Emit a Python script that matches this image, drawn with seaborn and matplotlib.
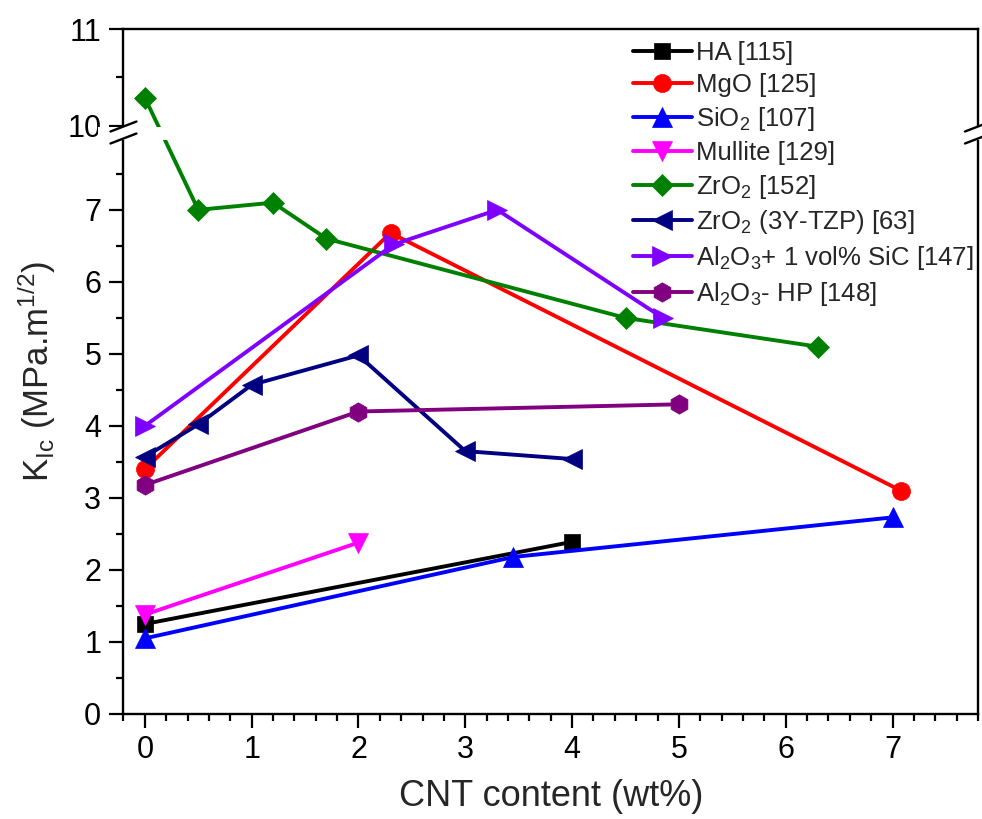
import numpy as np
import pandas as pd
import matplotlib
matplotlib.use("Agg")
import matplotlib.pyplot as plt
import matplotlib.ticker as mticker
import matplotlib.transforms as mtrans
from matplotlib.patches import Rectangle
from matplotlib.lines import Line2D
import seaborn as sns

# ---------------- data ----------------
ha_x = [0, 4]
ha_y = [1.25, 2.39]
mgo_x = [0, 2.3, 7.08]
mgo_y = [3.40, 6.68, 3.10]
sio2_x = [0, 3.45, 7.0]
sio2_y = [1.05, 2.18, 2.73]
mullite_x = [0, 2.0]
mullite_y = [1.38, 2.38]
zro2_x = [0, 0.5, 1.2, 1.7, 4.5, 6.3]
zro2_y = [10.29, 7.0, 7.1, 6.6, 5.5, 5.1]
tzp_x = [0, 0.5, 1.0, 2.0, 3.0, 4.0]
tzp_y = [3.57, 4.02, 4.57, 4.98, 3.65, 3.54]
sic_x = [0, 2.33, 3.3, 4.85]
sic_y = [4.0, 6.52, 7.0, 5.5]
hp_x = [0, 2.0, 5.0]
hp_y = [3.18, 4.2, 4.3]

labels = ["HA [115]", "MgO [125]", r"SiO$_2$ [107]", "Mullite [129]",
          r"ZrO$_2$ [152]", r"ZrO$_2$ (3Y-TZP) [63]",
          r"Al$_2$O$_3$+ 1 vol% SiC [147]", r"Al$_2$O$_3$- HP [148]"]
xticks = [0, 1, 2, 3, 4, 5, 6, 7]
yticks = [0, 1, 2, 3, 4, 5, 6, 7, 10, 11]

series = [
    (ha_x, ha_y, "#000000", "s", 11.5),
    (mgo_x, mgo_y, "#ff0000", "o", 13),
    (sio2_x, sio2_y, "#0000ff", "^", 14.5),
    (mullite_x, mullite_y, "#ff00ff", "v", 14.5),
    (zro2_x, zro2_y, "#008000", "D", 11),
    (tzp_x, tzp_y, "#000080", "<", 14.5),
    (sic_x, sic_y, "#8000ff", ">", 14.5),
    (hp_x, hp_y, "#800080", "h", 14),
]

# ---------------- style ----------------
sns.set_theme(style="white")
plt.rcParams["font.family"] = ["Liberation Sans", "DejaVu Sans"]
plt.rcParams["mathtext.fontset"] = "custom"
plt.rcParams["mathtext.rm"] = "Liberation Sans"
plt.rcParams["mathtext.it"] = "Liberation Sans:italic"
plt.rcParams["mathtext.bf"] = "Liberation Sans:bold"

# broken-axis scale: 0..8 linear, 8..10 compressed, 10..11 stretched
B1, B2 = 8.0, 10.0
K_GAP = 0.083
K_UP = 1.345
T2 = B1 + (B2 - B1) * K_GAP


def fwd(y):
    y = np.asarray(y, dtype=float)
    return np.where(y <= B1, y,
                    np.where(y <= B2, B1 + (y - B1) * K_GAP,
                             T2 + (y - B2) * K_UP))


def inv(v):
    v = np.asarray(v, dtype=float)
    return np.where(v <= B1, v,
                    np.where(v <= T2, B1 + (v - B1) / K_GAP,
                             B2 + (v - T2) / K_UP))


fig = plt.figure(figsize=(9.82, 8.19), dpi=100)
ax = fig.add_axes([0.12576, 0.12821, 0.87017, 0.83638])
ax.set_yscale("function", functions=(fwd, inv))

for (xs, ys, col, mk, ms), lab in zip(series, labels):
    sns.lineplot(x=xs, y=ys, ax=ax, color=col, marker=mk, markersize=ms,
                 markeredgecolor=col, markeredgewidth=0.5, linewidth=2.8,
                 label=lab, sort=False, estimator=None)

ax.set_xlim(-0.2, 7.8)
ax.set_ylim(0, 11)
ax.set_xticks(xticks)
ax.xaxis.set_minor_locator(mticker.FixedLocator(np.round(np.arange(-0.2, 7.81, 0.2), 2)))
ax.set_yticks(yticks)
ax.yaxis.set_major_formatter(mticker.FormatStrFormatter("%d"))
ax.yaxis.set_minor_locator(mticker.FixedLocator([0.5, 1.5, 2.5, 3.5, 4.5, 5.5, 6.5, 7.5, 10.5]))
ax.yaxis.set_minor_formatter(mticker.NullFormatter())

for s in ax.spines.values():
    s.set_linewidth(1.7)
    s.set_color("black")

ax.tick_params(axis="both", which="major", direction="out", length=10, width=1.6,
               labelsize=22, color="black", labelcolor="black")
ax.tick_params(axis="both", which="minor", direction="out", length=5, width=1.6, color="black")
ax.tick_params(axis="x", which="both", bottom=True, top=False, pad=5)
ax.tick_params(axis="y", which="both", left=True, right=False, pad=6)

ax.set_xlabel("CNT content (wt%)", fontsize=26)
ax.set_ylabel(r"K$_{\rm Ic}$ (MPa.m$^{1/2}$)", fontsize=25)
ax.xaxis.set_label_coords(0.5, -0.095)
ax.yaxis.set_label_coords(-0.077, 0.5)

# break gap
btr = mtrans.blended_transform_factory(ax.transAxes, ax.transData)
ax.add_patch(Rectangle((-0.03, 7.97), 1.06, 9.8 - 7.97, transform=btr,
                       facecolor="white", edgecolor="none", clip_on=False, zorder=10))
W, H = 854.5, 685.0
for xc in (0.0, 1.0):
    for yp in (126.5, 138.5):
        yc = (714 - yp) / H
        ax.add_line(Line2D([xc - 13 / W, xc + 13 / W], [yc - 5 / H, yc + 5 / H],
                           transform=ax.transAxes, color="black", lw=1.7,
                           clip_on=False, zorder=11))

leg = ax.legend(loc="upper left", bbox_to_anchor=(0.596, 0.983), frameon=False,
                fontsize=18.5, handlelength=2.3, handletextpad=0.15,
                labelspacing=0.31, borderaxespad=0, borderpad=0)
leg.set_zorder(20)

fig.savefig("out.png", dpi=100)
